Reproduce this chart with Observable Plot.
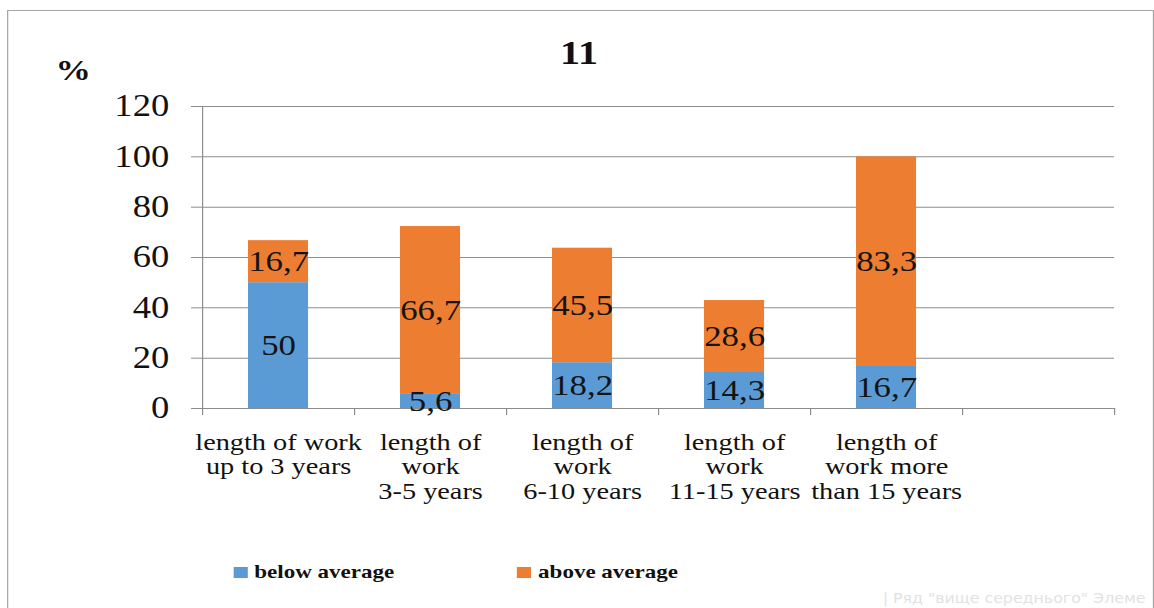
<!DOCTYPE html>
<html>
<head>
<meta charset="utf-8">
<script src="https://cdn.jsdelivr.net/npm/d3@7"></script>
<script src="https://cdn.jsdelivr.net/npm/@observablehq/plot@0.6"></script>
<style>
  html, body { margin: 0; padding: 0; background: #fff; overflow: hidden; width: 1154px; height: 608px; }
  /* the chart is laid out on a 978px-wide stage and widened to the full page */
  #stage { position: absolute; left: 0; top: 0; width: 978px; height: 608px;
           transform: scaleX(1.18); transform-origin: 0 0;
           font-family: "Liberation Serif", "Times New Roman", serif; color: #111; }
  #frame { position: absolute; left: 5.5px; top: 10px; width: 970px; height: 640px; border: 1px solid #a3a3a3; }
  #title { position: absolute; left: 390.7px; width: 200px; top: 36px; text-align: center;
           font-weight: bold; font-size: 34px; line-height: 34px; }
  #unit  { position: absolute; left: 47px; top: 55px; font-weight: bold; font-size: 30px; line-height: 30px; }
  #chart { position: absolute; left: 0; top: 85px; }
  #chart svg, #chart svg text { font-family: "Liberation Serif", "Times New Roman", serif !important; }
  #legend { position: absolute; left: 197.5px; top: 561px; display: flex; }
  .item { display: flex; align-items: center; width: 240.5px; height: 22px; font-weight: bold; font-size: 19.5px; }
  .sw { width: 12px; height: 11px; margin-right: 6px; flex: none; }
  #tip { position: absolute; left: 748px; top: 591px; font-family: "DejaVu Sans", sans-serif; font-size: 13.4px;
         color: #e2e2e2; white-space: nowrap; }
</style>
</head>
<body>
<div id="stage">
  <div id="frame"></div>
  <div id="title">11</div>
  <div id="unit">%</div>
  <div id="chart"></div>
  <div id="legend"></div>
  <div id="tip">| Ряд "вище середнього" Элеме</div>
</div>
<script>
// Work-experience groups (the sixth slot is an empty category)
const categories = [
  "length of work\nup to 3 years",
  "length of\nwork\n3-5 years",
  "length of\nwork\n6-10 years",
  "length of\nwork\n11-15 years",
  "length of\nwork more\nthan 15 years",
  ""
];
const series = ["below average", "above average"];
const belowAverage = [50, 5.6, 18.2, 14.3, 16.7];
const aboveAverage = [16.7, 66.7, 45.5, 28.6, 83.3];
const yTicks = [0, 20, 40, 60, 80, 100, 120];
const seriesColors = ["#5B9BD5", "#ED7D31"];

// long table: one row per segment, "below" first so it sits at the bottom of each stack
const rows = [
  ...belowAverage.map((value, slot) => ({slot, series: series[0], value})),
  ...aboveAverage.map((value, slot) => ({slot, series: series[1], value}))
];

const barHalf = 0.1975;          // half a bar, as a fraction of one category slot
const fmt = v => String(v).replace(".", ",");
const grid = "#8c8c8c";
const serif = "Liberation Serif, Times New Roman, serif";

const plot = Plot.plot({
  width: 978,
  height: 440,
  marginLeft: 171.2,
  marginRight: 33.9,
  marginTop: 21,
  marginBottom: 117,
  style: {background: "transparent", overflow: "visible", color: "#111"},
  x: {domain: [0, categories.length], axis: null},
  y: {domain: [0, 120], axis: null},
  color: {domain: series, range: seriesColors},
  marks: [
    Plot.ruleY(yTicks.slice(1), {stroke: grid, strokeWidth: 1}),
    Plot.axisY({ticks: yTicks, tickSize: 9.3, tickPadding: 19, fontSize: 31,
                fontFamily: serif, stroke: grid, fill: "#111", label: null}),
    Plot.rectY(rows, {
      x1: d => d.slot + 0.5 - barHalf,
      x2: d => d.slot + 0.5 + barHalf,
      y: "value",
      fill: "series"
    }),
    Plot.ruleY([0], {stroke: grid, strokeWidth: 1}),
    Plot.ruleX([0], {y1: 0, y2: 120, stroke: grid, strokeWidth: 1}),
    Plot.axisX({ticks: d3.range(categories.length + 1), tickSize: 7, tickFormat: () => "",
                stroke: grid, label: null}),
    Plot.text(rows, Plot.stackY({
      x: d => d.slot + 0.5,
      y: "value",
      text: d => fmt(d.value),
      fontSize: 29.5,
      fontFamily: serif,
      fill: "#141414"
    })),
    Plot.text(categories, {
      x: (d, i) => i + 0.5,
      y: () => 0,
      text: d => d,
      lineAnchor: "top",
      dy: 24,
      lineHeight: 1.02,
      fontSize: 24,
      fontFamily: serif,
      fill: "#111"
    })
  ]
});
document.getElementById("chart").appendChild(plot);

// legend below the chart
const legend = d3.select("#legend");
series.forEach((name, i) => {
  const item = legend.append("div").attr("class", "item");
  item.append("div").attr("class", "sw").style("background", seriesColors[i]);
  item.append("span").text(name);
});
</script>
</body>
</html>
